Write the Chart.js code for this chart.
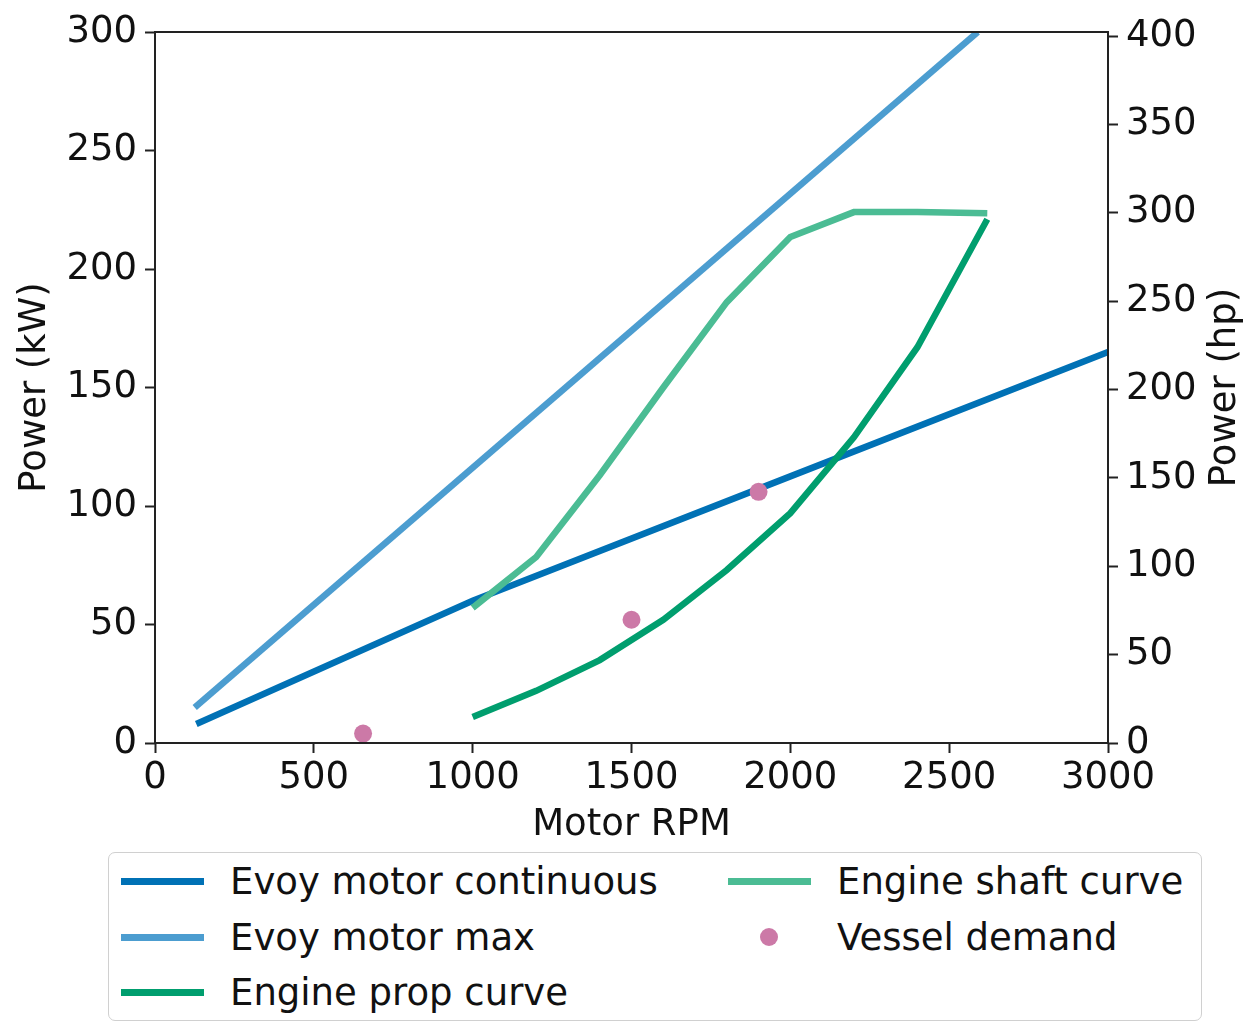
<!DOCTYPE html>
<html>
<head>
<meta charset="utf-8">
<script src="https://cdn.jsdelivr.net/npm/chart.js@4.4.1/dist/chart.umd.min.js"></script>
<style>
    body { margin: 0; background: white; font-family: "DejaVu Sans", sans-serif; }
    #wrap { position: relative; width: 1249px; height: 1025px; }
    #chartBox { position: absolute; left: 0; top: 0; width: 1249px; height: 850px; }
    #legend {
        position: absolute; left: 108px; top: 852px; width: 1094px; height: 169px;
        border: 1.5px solid #d0d0d0; border-radius: 7px; box-sizing: border-box;
    }
    .item { position: absolute; height: 50px; display: flex; align-items: center;
            font-size: 37px; color: #111; white-space: nowrap; }
    .swatch { width: 83px; height: 7px; margin-right: 26px; }
    .dot { width: 18px; height: 18px; border-radius: 50%; margin: 0 59px 0 32px; }
</style>
</head>
<body>
<div id="wrap">
    <div id="chartBox"><canvas id="powerChart" width="1249" height="850"></canvas></div>
    <div id="legend"></div>
</div>
<script>
/// Data (RPM vs kW)
const rpmContinuous = [130, 1000, 2000, 3000];
const kwContinuous = [8, 60, 112.5, 165];

const rpmMax = [125, 2590];
const kwMax = [15, 300];

const rpmProp = [1000, 1200, 1400, 1600, 1800, 2000, 2200, 2400, 2620];
const kwProp = [11, 22, 35, 52, 73, 97, 129, 167, 221];

const rpmShaft = [1000, 1200, 1400, 1600, 1800, 2000, 2200, 2400, 2620];
const kwShaft = [57, 78.5, 113, 150, 186, 213.5, 224, 224, 223.5];

const rpmDemand = [655, 1500, 1900];
const kwDemand = [4, 52, 106];

const kwTicks = [0, 50, 100, 150, 200, 250, 300];
const hpTicks = [0, 50, 100, 150, 200, 250, 300, 350, 400];
const rpmTicks = [0, 500, 1000, 1500, 2000, 2500, 3000];

const KW_TO_HP = 1.34102;
const axisColor = '#222';
const tickFont = { family: 'DejaVu Sans', size: 37 };

function pts(xs, ys) {
    return xs.map((x, i) => ({ x: x, y: ys[i] }));
}

// frame round the plot + right axis title (reads bottom to top like matplotlib)
const framePlugin = {
    id: 'frame',
    afterDraw(chart) {
        const { ctx, chartArea: a } = chart;
        ctx.save();
        ctx.strokeStyle = axisColor;
        ctx.lineWidth = 2;
        ctx.strokeRect(a.left, a.top, a.right - a.left, a.bottom - a.top);
        ctx.translate(1225, (a.top + a.bottom) / 2);
        ctx.rotate(-Math.PI / 2);
        ctx.fillStyle = '#111';
        ctx.font = '37px "DejaVu Sans"';
        ctx.textAlign = 'center';
        ctx.textBaseline = 'middle';
        ctx.fillText('Power (hp)', 0, 0);
        ctx.restore();
    }
};

const datasets = [
    { label: 'Evoy motor continuous', data: pts(rpmContinuous, kwContinuous),
      borderColor: '#0071B5', order: 4 },
    { label: 'Evoy motor max', data: pts(rpmMax, kwMax),
      borderColor: '#4C9DD0', order: 3 },
    { label: 'Engine prop curve', data: pts(rpmProp, kwProp),
      borderColor: '#009E6E', order: 2 },
    { label: 'Engine shaft curve', data: pts(rpmShaft, kwShaft),
      borderColor: '#4BBC94', order: 1 },
    { label: 'Vessel demand', data: pts(rpmDemand, kwDemand),
      showLine: false, pointRadius: 9, pointBackgroundColor: '#CC79A7',
      pointBorderWidth: 0, backgroundColor: '#CC79A7', order: 0 }
];
datasets.forEach(d => {
    if (d.showLine !== false) {
        d.borderWidth = 6.5;
        d.pointRadius = 0;
        d.tension = 0;
    }
    d.yAxisID = 'y';
});

const gridOpts = {
    drawOnChartArea: false, drawTicks: true, tickLength: 10,
    tickColor: axisColor, tickWidth: 2
};
const plainLabel = v => String(v);

const powerChart = new Chart('powerChart', {
    type: 'line',
    data: { datasets: datasets },
    options: {
        responsive: false,
        animation: false,
        layout: { padding: { top: 32, left: 0, right: 0, bottom: 0 } },
        plugins: { legend: { display: false }, tooltip: { enabled: false } },
        scales: {
            x: {
                type: 'linear', min: 0, max: 3000,
                afterBuildTicks: s => { s.ticks = rpmTicks.map(v => ({ value: v })); },
                afterFit: s => { s.height = 107; },
                grid: gridOpts,
                border: { display: false },
                ticks: { font: tickFont, color: '#111', padding: 3, maxRotation: 0,
                         callback: plainLabel },
                title: { display: true, text: 'Motor RPM', font: tickFont, color: '#111',
                         padding: { top: 0, bottom: 2 } }
            },
            y: {
                type: 'linear', position: 'left', min: 0, max: 300,
                afterBuildTicks: s => { s.ticks = kwTicks.map(v => ({ value: v })); },
                afterFit: s => { s.width = 155; },
                grid: gridOpts,
                border: { display: false },
                ticks: { font: tickFont, color: '#111', padding: 8, callback: plainLabel },
                title: { display: true, text: 'Power (kW)', font: tickFont, color: '#111',
                         padding: { top: 13, bottom: 0 } }
            },
            y1: {
                type: 'linear', position: 'right', min: 0, max: 300 * KW_TO_HP,
                afterBuildTicks: s => { s.ticks = hpTicks.map(v => ({ value: v })); },
                afterFit: s => { s.width = 141; },
                grid: gridOpts,
                border: { display: false },
                ticks: { font: tickFont, color: '#111', padding: 8, callback: plainLabel }
            }
        }
    },
    plugins: [framePlugin]
});

/// HTML legend, two columns filled top to bottom like matplotlib
const legendSlots = [
    [0, 3], [0, 59], [0, 114],
    [607, 3], [607, 59]
];
const legendEl = document.getElementById('legend');
datasets.forEach((ds, k) => {
    const [lx, ly] = legendSlots[k];
    const item = document.createElement('div');
    item.className = 'item';
    item.style.left = (lx + 12) + 'px';
    item.style.top = ly + 'px';
    const mark = document.createElement('div');
    if (ds.showLine === false) {
        mark.className = 'dot';
        mark.style.background = ds.pointBackgroundColor;
    } else {
        mark.className = 'swatch';
        mark.style.background = ds.borderColor;
    }
    const txt = document.createElement('span');
    txt.textContent = ds.label;
    item.appendChild(mark);
    item.appendChild(txt);
    legendEl.appendChild(item);
});
</script>
</body>
</html>
